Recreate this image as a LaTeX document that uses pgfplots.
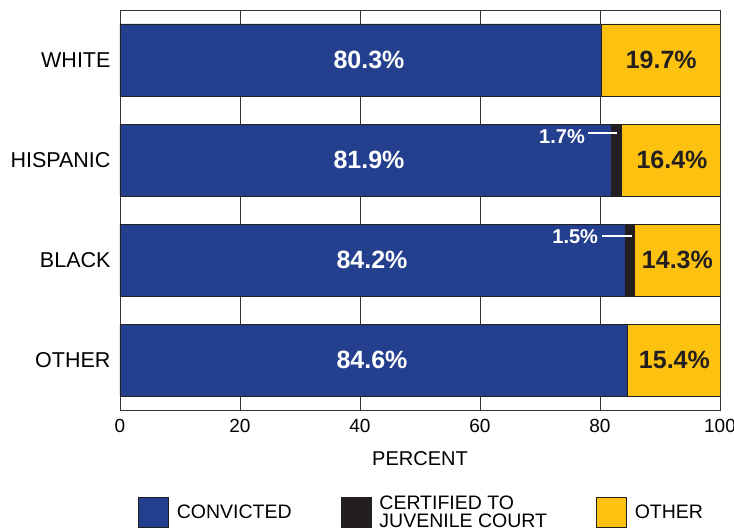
\documentclass[border=0pt]{standalone}
\usepackage{pgfplots}
\pgfplotsset{compat=1.18}
\usepackage{pgfplotstable}
\usepackage{fontspec}
\setmainfont{Liberation Sans}
\usetikzlibrary{calc}
\definecolor{cblue}{HTML}{253F8F}
\definecolor{cyel}{HTML}{FDC20F}
\definecolor{cblk}{HTML}{231F20}
\definecolor{cline}{HTML}{333333}

\pgfplotstableread{
y conv cert oth
0 80.3 0 19.7
1 81.9 1.7 16.4
2 84.2 1.5 14.3
3 84.6 0 15.4
}\data

\pgfplotstableread{
x y l
41.5 0 80.3
41.5 1 81.9
42 2 84.2
42 3 84.6
}\convlab

\pgfplotstableread{
x y l
90.2 0 19.7
92 1 16.4
92.9 2 14.3
92.4 3 15.4
}\othlab

\pgfplotstableread{
x y l
77.5 0.77 1.7
79.7 1.77 1.5
}\certlab

\newcommand{\ylabfont}{\fontsize{21.5}{24}\selectfont}
\newcommand{\tickfont}{\fontsize{19}{21}\selectfont}
\newcommand{\xlabfont}{\fontsize{20}{22}\selectfont}
\newcommand{\legfont}{\fontsize{19.5}{18}\selectfont}
\newcommand{\bigfont}{\fontsize{25}{27}\selectfont\bfseries}
\newcommand{\smallbold}{\fontsize{20}{22}\selectfont\bfseries}

\begin{document}
\begin{tikzpicture}
\begin{axis}[
  name=ax, at={(0,0)}, anchor=south west,
  width=600pt, height=400pt, scale only axis,
  xbar stacked, bar width=72pt,
  xmin=0, xmax=100, ymin=-0.5, ymax=3.5, y dir=reverse,
  ytick={0,1,2,3}, yticklabels={WHITE,HISPANIC,BLACK,OTHER},
  xtick={0,20,40,60,80,100},
  xmajorgrids, grid style={cline, line width=0.8pt},
  axis line style={cline, line width=0.8pt},
  major tick length=0pt,
  xticklabel style={font=\tickfont, yshift=-6pt},
  yticklabel style={font=\ylabfont, xshift=-6pt},
  /pgf/number format/assume math mode=true,
  xlabel={PERCENT}, xlabel style={font=\xlabfont, yshift=-12pt},
  legend columns=3,
  legend cell align=left,
  legend style={draw=none, fill=none, inner sep=0pt, outer sep=0pt,
    at={(0.03,-0.21)}, anchor=north west,
    nodes={font=\legfont, align=left, inner sep=2pt},
    /tikz/every odd column/.append style={column sep=6pt},
    /tikz/every even column/.append style={column sep=47pt}},
  legend image code/.code={\draw[#1] (0pt,-15pt) rectangle (30pt,15pt);},
]
\addplot[fill=cblue, draw=cblk, line width=0.8pt] table[x=conv, y=y] {\data};
\addlegendentry{CONVICTED}
\addplot[fill=cblk, draw=cblk, line width=0.8pt] table[x=cert, y=y] {\data};
\addlegendentry{CERTIFIED TO\\JUVENILE COURT}
\addplot[fill=cyel, draw=cblk, line width=0.8pt] table[x=oth, y=y] {\data};
\addlegendentry{OTHER}
\end{axis}
\begin{axis}[
  at={(0,0)}, anchor=south west,
  width=600pt, height=400pt, scale only axis,
  xmin=0, xmax=100, ymin=-0.5, ymax=3.5, y dir=reverse,
  hide axis, clip=false,
]
\addplot[draw=none, mark=none, nodes near coords={\pgfplotspointmeta\%},
  point meta=explicit symbolic,
  every node near coord/.append style={white, font=\bigfont, anchor=center}]
  table[x=x, y=y, meta=l] {\convlab};
\addplot[draw=none, mark=none, nodes near coords={\pgfplotspointmeta\%},
  point meta=explicit symbolic,
  every node near coord/.append style={cblk, font=\bigfont, anchor=center}]
  table[x=x, y=y, meta=l] {\othlab};
\addplot[draw=none, mark=none, nodes near coords={\pgfplotspointmeta\%},
  point meta=explicit symbolic,
  every node near coord/.append style={white, font=\smallbold, anchor=east, inner sep=0pt}]
  table[x=x, y=y, meta=l] {\certlab};
\addplot[white, line width=1.2pt] coordinates {(78,0.73) (82.8,0.73)};
\addplot[white, line width=1.2pt] coordinates {(80.3,1.76) (85.3,1.76)};
\end{axis}
\pgfresetboundingbox
\path ($(ax.south west)+(-120pt,-122pt)$) rectangle ($(ax.north east)+(14pt,10pt)$);
\end{tikzpicture}
\end{document}
